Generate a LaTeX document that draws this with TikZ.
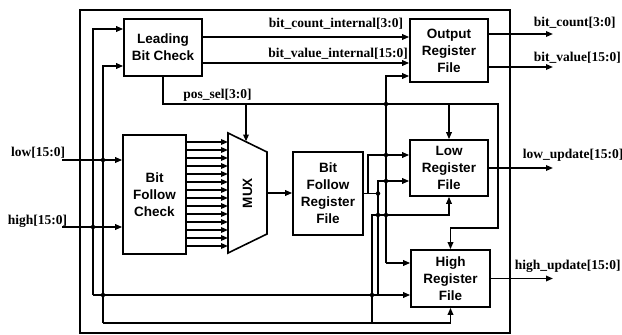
\documentclass[tikz,border=0pt]{standalone}
\usepackage{fontspec}
\setmainfont{Liberation Serif}
\setsansfont{Liberation Sans}
\usetikzlibrary{positioning,arrows.meta}

\begin{document}
\begin{tikzpicture}[
        x=1pt, y=-1pt,
        line width=1.6pt,
        >={Triangle[length=7pt,width=5.5pt]},
        blk/.style={draw, align=center, inner sep=0pt, font=\sffamily\bfseries\fontsize{13.5}{17}\selectfont},
        lbl/.style={font=\bfseries\fontsize{13.5}{15}\selectfont, inner sep=0pt},
        dot/.style={circle, fill, inner sep=0pt, minimum size=4.5pt}
    ]
    \useasboundingbox (0,0) rectangle (622,335);

    % Outer frame
    \draw (80,10) rectangle (510,333);

    % Blocks
    \node[blk, minimum width=78pt, minimum height=57pt] (lbc) at (163,47.5) {Leading\\Bit Check};
    \node[blk, minimum width=78pt, minimum height=63pt] (orf) at (449,50.5) {Output\\Register\\File};
    \node[blk, minimum width=63pt, minimum height=119pt] (bfc) at (154.5,194.5) {Bit\\Follow\\Check};
    \node[blk, minimum width=70pt, minimum height=83pt] (bfrf) at (328,193.5) {Bit\\Follow\\Register\\File};
    \node[blk, minimum width=78pt, minimum height=56pt] (lrf) at (449,168) {Low\\Register\\File};
    \node[blk, minimum width=79pt, minimum height=57pt] (hrf) at (450.5,278.5) {High\\Register\\File};

    % MUX
    \coordinate (mux tl) at (228,133);
    \coordinate (mux tr) at (267,152);
    \coordinate (mux br) at (267,234);
    \coordinate (mux bl) at (228,253);
    \draw (mux tl) -- (mux tr) -- (mux br) -- (mux bl) -- cycle;
    \node[rotate=90, font=\sffamily\bfseries\fontsize{13.5}{17}\selectfont] (mux) at (247.5,193) {MUX};

    % Inputs
    \coordinate (lo in) at (62,160);
    \coordinate (hi in) at (62,227);
    \node[lbl, anchor=base east] (lo name) at (66,156) {low[15:0]};
    \node[lbl, anchor=base east] (hi name) at (68,224) {high[15:0]};
    \draw[->] (lo in) -- (lo in -| bfc.west);
    \draw[->] (hi in) -- (hi in -| bfc.west);

    % high bus
    \coordinate (hi top) at (93,29);
    \coordinate (hi bot) at (93,295);
    \draw[->] (hi bot) -- (hi top) -- (hi top -| lbc.west);
    \draw[->] (hi bot) -- (hi bot -| hrf.west);

    % low bus
    \coordinate (lo top) at (103,66);
    \coordinate (lo bot) at (103,323);
    \draw[->] (lo bot) -- (lo top) -- (lo top -| lbc.west);
    \draw[->] (lo bot) -| (hrf.south);

    % Leading bit check to output registers
    \coordinate (cnt) at (202,37);
    \coordinate (val) at (202,63);
    \draw[->] (cnt) -- (cnt -| orf.west);
    \draw[->] (val) -- (val -| orf.west);
    \node[lbl, anchor=base] (cnt name) at (336,27) {bit\_count\_internal[3:0]};
    \node[lbl, anchor=base] (val name) at (338,57) {bit\_value\_internal[15:0]};

    % Outputs
    \coordinate (cnt out) at (553,34);
    \coordinate (val out) at (553,67);
    \draw[->] (cnt out -| orf.east) -- (cnt out);
    \draw[->] (val out -| orf.east) -- (val out);
    \node[lbl, anchor=base west] (cnt out name) at (533,26) {bit\_count[3:0]};
    \node[lbl, anchor=base west] (val out name) at (533,61) {bit\_value[15:0]};
    \coordinate (lo out) at (553,168);
    \coordinate (hi out) at (553,278.5);
    \draw[->] (lrf.east) -- (lo out);
    \draw[->] (hrf.east) -- (hi out);
    \node[lbl, anchor=base west] (lo out name) at (522,158) {low\_update[15:0]};
    \node[lbl, anchor=base west] (hi out name) at (514,269) {high\_update[15:0]};

    % pos_sel
    \coordinate (ps) at (498,104);
    \coordinate (ps down) at (498,228);
    \coordinate (mux sel) at (246,141.5);
    \draw[->] (lbc.south) |- (ps) -- (ps down) -| (hrf.north);
    \draw[->] (ps -| lrf.north) -- (lrf.north);
    \draw[->] (mux sel |- ps) -- (mux sel);
    \node[lbl, anchor=base] (ps name) at (217.5,98) {pos\_sel[3:0]};

    % Bit follow check to mux
    \foreach \i in {0,...,13} {
        \coordinate (bit\i) at (186,142+8*\i);
        \draw[->] (bit\i) -- (bit\i -| mux tl);
    }
    \coordinate (mux out) at (267,193);
    \draw[->] (mux out) -- (mux out -| bfrf.west);

    % Register feeds
    \coordinate (rs top) at (386,76);
    \coordinate (rs bot) at (386,263);
    \draw[->] (rs bot) -- (rs top) -- (rs top -| orf.west);
    \draw[->] (rs bot) -- (rs bot -| hrf.west);

    \coordinate (bf out) at (378,193.5);
    \coordinate (lr a) at (368,155);
    \coordinate (lr b) at (378,181);
    \coordinate (lo up) at (372,215);
    \draw (bfrf.east) -- (bf out);
    \draw[->] (lr a |- bf out) -- (lr a) -- (lr a -| lrf.west);
    \draw[->] (lr b |- hi bot) -- (lr b) -- (lr b -| lrf.west);
    \draw[->] (lo up |- lo bot) -- (lo up) -| (lrf.south);

    % Junctions
    \node[dot] (j1) at (lo in -| lo top) {};
    \node[dot] (j2) at (hi in -| hi top) {};
    \node[dot] (j3) at (hi bot -| lo top) {};
    \node[dot] (j4) at (ps -| rs top) {};
    \node[dot] (j5) at (lr a -| rs top) {};
    \node[dot] (j6) at (lr b -| rs top) {};
    \node[dot] (j7) at (bf out) {};
    \node[dot] (j8) at (lo up -| lr b) {};
    \node[dot] (j9) at (lo up -| rs top) {};
    \node[dot] (j10) at (hi bot -| lo up) {};
\end{tikzpicture}
\end{document}
